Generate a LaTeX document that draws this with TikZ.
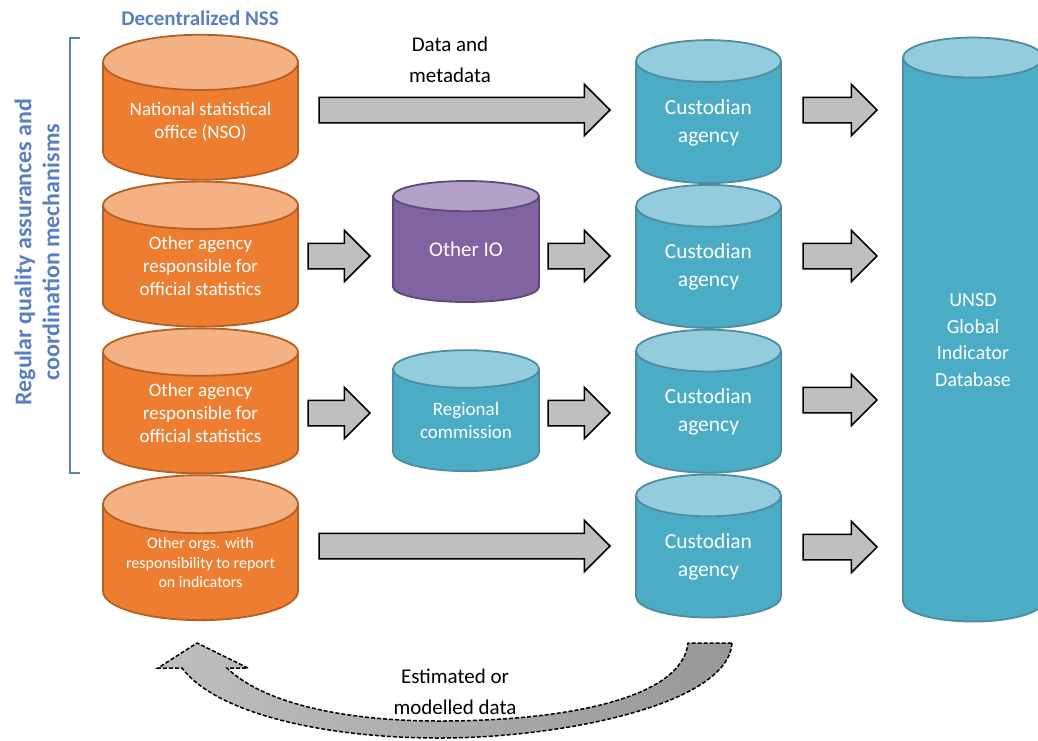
\documentclass[tikz,border=0pt]{standalone}
\usepackage{fontspec}
\setmainfont{Carlito}
\usetikzlibrary{shapes.geometric,shapes.arrows,positioning,calc}
\definecolor{nssorange}{HTML}{ED7D31}
\definecolor{nsstop}{HTML}{F4B183}
\definecolor{nssedge}{HTML}{B65F22}
\definecolor{custteal}{HTML}{4BACC6}
\definecolor{custtop}{HTML}{93CDDD}
\definecolor{custedge}{HTML}{4F8CA1}
\definecolor{iopurple}{HTML}{8064A2}
\definecolor{iotop}{HTML}{B3A2C7}
\definecolor{ioedge}{HTML}{5E4A7A}
\definecolor{labelblue}{HTML}{5A7EC2}
\definecolor{arrowgray}{HTML}{BFBFBF}
\definecolor{curvedark}{HTML}{989898}

\begin{document}
\begin{tikzpicture}[
    x=1pt, y=-1pt,
    node distance=0pt,
    db/.style={cylinder, shape border rotate=90, cylinder uses custom fill, line width=1.8pt, text=white, align=center, inner sep=0pt},
    nss_db/.style={db, draw=nssedge, cylinder body fill=nssorange, cylinder end fill=nsstop, minimum width=195pt, minimum height=145pt, aspect=0.39, font=\fontsize{19}{23}\selectfont},
    cust_db/.style={db, draw=custedge, cylinder body fill=custteal, cylinder end fill=custtop, minimum width=145pt, minimum height=143pt, aspect=0.48, font=\fontsize{21.5}{28}\selectfont},
    io_db/.style={db, draw=ioedge, cylinder body fill=iopurple, cylinder end fill=iotop, minimum width=146pt, minimum height=121pt, aspect=0.41, font=\fontsize{21}{26}\selectfont},
    block_arrow/.style={single arrow, draw=black, line width=1.5pt, fill=arrowgray, inner xsep=0pt, inner ysep=12pt, single arrow head extend=13pt},
    caption/.style={align=center, font=\fontsize{21}{30.5}\selectfont}
]
\useasboundingbox (0,0) rectangle (1038,740);

% NSS column
\node[nss_db] (nso) at (200.5,121.5) {National statistical\\office (NSO)};
\node[nss_db, below=of nso] (agency1) {Other agency\\responsible for\\official statistics};
\node[nss_db, below=of agency1] (agency2) {Other agency\\responsible for\\official statistics};
\node[nss_db, below=of agency2, font=\fontsize{16}{19.5}\selectfont] (orgs) {Other orgs. with\\responsibility to report\\on indicators};

% intermediate bodies
\node[io_db] (otherio) at (466,249.5) {Other IO};
\node[io_db, draw=custedge, cylinder body fill=custteal, cylinder end fill=custtop, font=\fontsize{19}{23}\selectfont] (regional) at (466,420.5) {Regional\\commission};

% custodian column
\node[cust_db] (cust1) at (708.5,122.5) {Custodian\\agency};
\node[cust_db, below=of cust1] (cust2) {Custodian\\agency};
\node[cust_db, below=of cust2] (cust3) {Custodian\\agency};
\node[cust_db, below=of cust3] (cust4) {Custodian\\agency};

% global database
\node[cust_db, minimum width=140pt, minimum height=584pt, aspect=0.53, font=\fontsize{20}{26.7}\selectfont] (unsd) at (973,340) {UNSD\\Global\\Indicator\\Database};

% labels
\node[font=\fontsize{21}{24}\selectfont\bfseries, text=labelblue] (nsslabel) at (200,18) {Decentralized NSS};
\node[rotate=90, align=center, font=\fontsize{24}{28}\selectfont\bfseries, text=labelblue] (qalabel) at (37,252) {Regular quality assurances and\\coordination mechanisms};
\draw[labelblue, line width=2.5pt] (80,38) -- (70,38) -- (70,473) -- (80,473);
\node[caption] (datalabel) at (450,60) {Data and\\metadata};
\node[caption] (estlabel) at (455,692) {Estimated or\\modelled data};

% block arrows
\node[block_arrow, minimum height=291pt, anchor=tip] (a1) at ([xshift=-24pt]cust1.west |- 0,110) {};
\node[block_arrow, minimum height=62pt, anchor=tip] (a2) at ([xshift=-21pt]otherio.west |- 0,256) {};
\node[block_arrow, minimum height=62pt, anchor=tip] (a3) at ([xshift=-24pt]cust2.west |- 0,256) {};
\node[block_arrow, minimum height=62pt, anchor=tip] (a4) at ([xshift=-21pt]regional.west |- 0,413) {};
\node[block_arrow, minimum height=62pt, anchor=tip] (a5) at ([xshift=-24pt]cust3.west |- 0,413) {};
\node[block_arrow, minimum height=291pt, anchor=tip] (a6) at ([xshift=-24pt]cust4.west |- 0,546) {};
\foreach \y [count=\i] in {110,256,400,547}
  \node[block_arrow, minimum height=74pt, anchor=tip] (u\i) at ([xshift=-24pt]unsd.west |- 0,\y) {};

% feedback arrow
\draw[line width=1.5pt, dash pattern=on 4pt off 2pt, left color=arrowgray, right color=curvedark]
  (732,643) .. controls (728,705) and (560,738) .. (440,738)
  .. controls (320,738) and (215,712) .. (182,668)
  -- (158,668) -- (197,643) -- (248,668) -- (227,668)
  .. controls (262,702) and (340,721) .. (440,721)
  .. controls (560,721) and (682,700) .. (688,643) -- cycle;

\end{tikzpicture}
\end{document}
